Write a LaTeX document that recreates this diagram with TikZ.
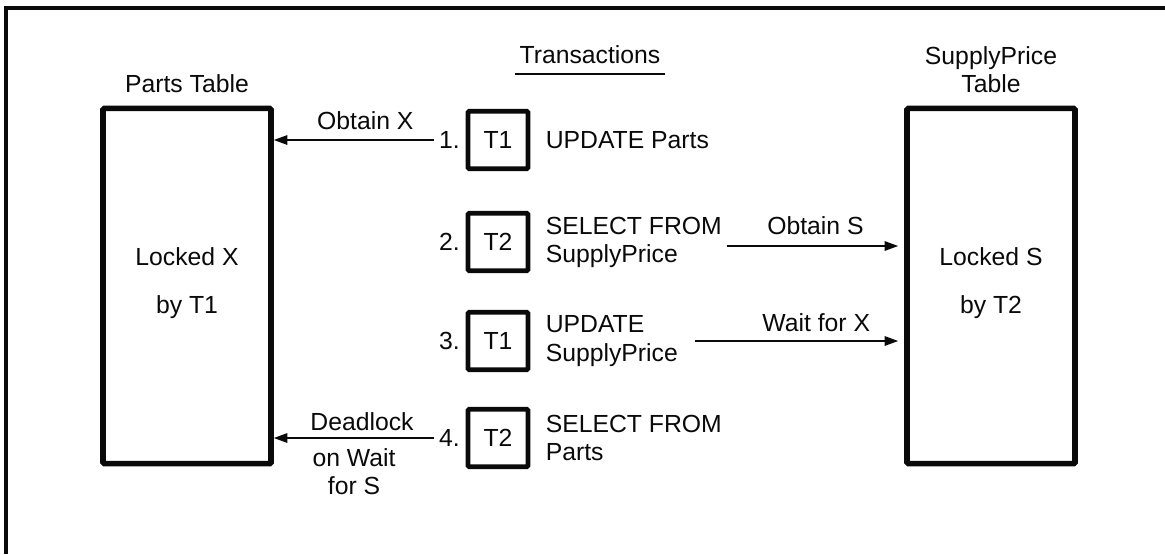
\documentclass[tikz,border=0pt]{standalone}
\usepackage{fontspec}
\setmainfont{Liberation Sans}
\usepackage{tikz}
\usetikzlibrary{positioning,arrows.meta}
\definecolor{dlBlack}{RGB}{10,10,10}

\begin{document}
\begin{tikzpicture}[x=0.025cm, y=-0.025cm,
  every node/.style={font=\fontsize{17.6}{20}\selectfont, text=dlBlack},
  tablebox/.style={draw=dlBlack, line width=4pt, minimum width=4.2cm, minimum height=8.88cm, rounded corners=1pt},
  txbox/.style={draw=dlBlack, line width=3.4pt, minimum width=1.5cm, minimum height=1.44cm, rounded corners=1pt},
  lockarrow/.style={-{Triangle[length=0.34cm,width=0.24cm]}, line width=1pt, dlBlack}]
  \useasboundingbox (0,0) rectangle (1165,554);

  % Frame
  \draw[line width=2.2pt, dlBlack] (6,554) -- (6,8) -- (1165,8);

  % Tables
  \node[tablebox] (parts) at (187,286) {};
  \node[tablebox] (sup) at (991,286) {};
  \node[above=0.2cm of parts] (partslbl) {Parts Table};
  \node[above=0.2cm of sup, align=center] (suplbl) {SupplyPrice\\Table};
  \node (lockx) at (187,257) {Locked X};
  \node (byt1) at (187,307) {by T1};
  \node (locks) at (991,257) {Locked S};
  \node (byt2) at (991,307) {by T2};

  % Transactions
  \node (trans) at (590,55) {Transactions};
  \draw[line width=1pt, dlBlack] ([yshift=-3.5pt]trans.south west) -- ([yshift=-3.5pt]trans.south east);

  \node[txbox] (t1) at (498,140) {T1};
  \node[left=0.02cm of t1] (n1) {1.};
  \node[right=0.26cm of t1, align=left] (s1) {UPDATE Parts};

  \node[txbox] (t2) at (498,242) {T2};
  \node[left=0.02cm of t2] (n2) {2.};
  \node[right=0.26cm of t2, align=left] (s2) {SELECT FROM\\SupplyPrice};

  \node[txbox] (t3) at (498,341) {T1};
  \node[left=0.02cm of t3] (n3) {3.};
  \node[right=0.26cm of t3, align=left] (s3) {UPDATE\\SupplyPrice};

  \node[txbox] (t4) at (498,438) {T2};
  \node[left=0.02cm of t4] (n4) {4.};
  \node[right=0.26cm of t4, align=left] (s4) {SELECT FROM\\Parts};

  % Lock requests
  \draw[lockarrow] (n1.west) -- (n1.west -| parts.east)
    node[pos=0.43, above, yshift=0.12cm] (obtx) {Obtain X};
  \draw[lockarrow, shorten >=0.15cm] ([yshift=-0.1cm]s2.east) -- ([yshift=-0.1cm]s2.east -| sup.west)
    node[midway, above, yshift=0.15cm] (obts) {Obtain S};
  \draw[lockarrow, shorten >=0.15cm] ([xshift=0.3cm]s3.east) -- (s3.east -| sup.west)
    node[pos=0.58, above, yshift=0.1cm] (waitx) {Wait for X};
  \draw[lockarrow] (n4.west) -- (n4.west -| parts.east)
    node[pos=0.45, above, yshift=0.05cm] (dead) {Deadlock}
    node[midway, below, yshift=-0.12cm, align=center] (waits) {on Wait\\for S};
\end{tikzpicture}
\end{document}
